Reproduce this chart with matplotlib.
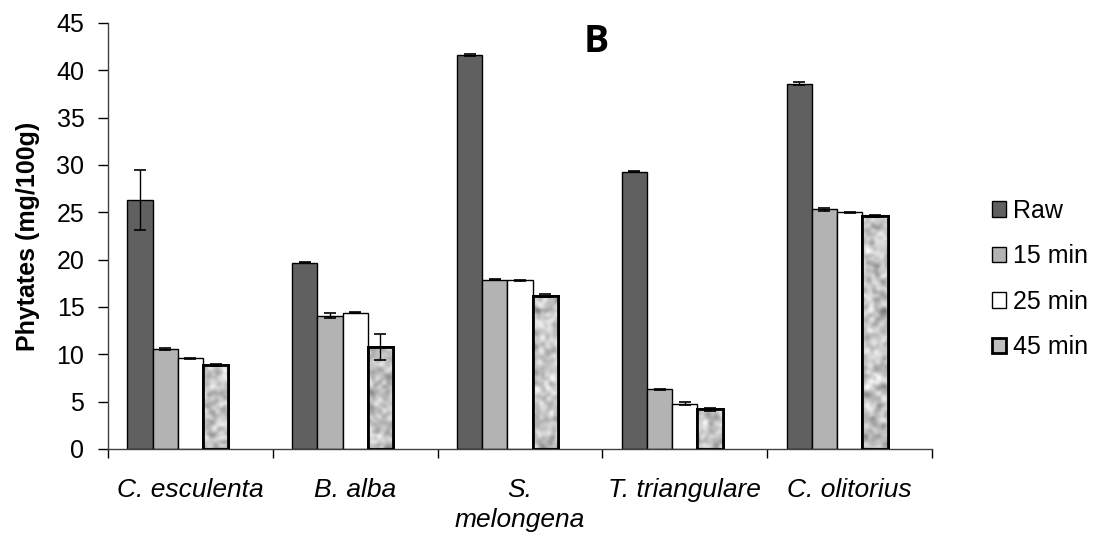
import numpy as np
import matplotlib.pyplot as plt
from matplotlib.patches import Patch

species = ["C. esculenta", "B. alba", "S.\nmelongena", "T. triangulare", "C. olitorius"]
series = ["Raw", "15 min", "25 min", "45 min"]

raw = [26.3, 19.7, 41.6, 29.3, 38.6]
min15 = [10.6, 14.1, 17.9, 6.3, 25.3]
min25 = [9.6, 14.4, 17.8, 4.8, 25.0]
min45 = [8.9, 10.8, 16.2, 4.2, 24.6]

raw_err = [3.2, 0.05, 0.08, 0.08, 0.15]
min15_err = [0.1, 0.3, 0.08, 0.08, 0.12]
min25_err = [0.05, 0.05, 0.08, 0.15, 0.08]
min45_err = [0.08, 1.35, 0.15, 0.15, 0.08]

values = [raw, min15, min25, min45]
errors = [raw_err, min15_err, min25_err, min45_err]
colors = ["#606060", "#b3b3b3", "#ffffff", "#c0c0c0"]
edge_w = [1.0, 1.0, 1.0, 2.0]

plt.rcParams["font.family"] = ["Liberation Sans", "DejaVu Sans"]

fig = plt.figure(figsize=(10.95, 5.38), dpi=100)
ax = fig.add_axes([108 / 1095, 1 - 449 / 538, (932 - 108) / 1095, (449 - 23) / 538])

x = np.arange(len(species))
bar_w = 0.153
offset = 0.118

# blotchy grey texture for the 45 min bars (styling only)
rng = np.random.default_rng(3)
tex = rng.random((430, 830))
k = np.ones(4) / 4
for _ in range(3):
    tex = np.apply_along_axis(lambda r: np.convolve(r, k, mode="same"), 1, tex)
    tex = np.apply_along_axis(lambda c: np.convolve(c, k, mode="same"), 0, tex)
tex = (tex - tex.min()) / (tex.max() - tex.min())

for j, (vals, errs) in enumerate(zip(values, errors)):
    left = x + offset + j * bar_w
    bars = ax.bar(left, vals, width=bar_w, align="edge", color=colors[j],
                  edgecolor="black", linewidth=edge_w[j], zorder=2)
    ax.errorbar(left + bar_w / 2, vals, yerr=errs, fmt="none", ecolor="black",
                elinewidth=1, capsize=4.5, capthick=1.2, zorder=4)
    if j == 3:
        for b in bars:
            im = ax.imshow(tex, cmap="gray", vmin=0.02, vmax=0.92, aspect="auto",
                           extent=[0, 5, 0, 45], zorder=2.5, interpolation="bilinear")
            im.set_clip_path(b)
            ax.bar(b.get_x(), b.get_height(), width=bar_w, align="edge",
                   facecolor="none", edgecolor="black", linewidth=2, zorder=3)

ax.set_xlim(0, 5)
ax.set_ylim(0, 45)
ax.set_yticks(np.arange(0, 46, 5))
ax.set_xticks(np.arange(0, 6))
ax.set_xticklabels([])
ax.set_xticks(x + 0.5, minor=True)
ax.set_xticklabels(species, minor=True, fontstyle="italic", fontsize=19,
                   linespacing=1.3)
ax.tick_params(axis="x", which="minor", length=0, pad=21)
ax.tick_params(axis="x", which="major", length=6.5, width=1, direction="out")
ax.tick_params(axis="y", length=7, width=1, labelsize=18, pad=10)

for s in ["top", "right"]:
    ax.spines[s].set_visible(False)
for s in ["left", "bottom"]:
    ax.spines[s].set_color("#404040")
    ax.spines[s].set_linewidth(1)

ax.set_ylabel("Phytates (mg/100g)", fontsize=18, fontweight="bold", labelpad=12)

fig.text(596 / 1095, 1 - 42 / 538, "B", fontsize=27, fontweight="bold",
         family=["Open Sans", "DejaVu Sans"], ha="center", va="center")

handles = [Patch(facecolor=colors[j], edgecolor="black", linewidth=edge_w[j])
           for j in range(4)]
fig.legend(handles, series, loc="center left", bbox_to_anchor=(992 / 1095, 1 - 279 / 538),
           frameon=False, fontsize=18, handlelength=0.56, handleheight=0.56,
           handletextpad=0.28, labelspacing=0.86, borderpad=0, borderaxespad=0)

fig.savefig("out.png", dpi=100)
